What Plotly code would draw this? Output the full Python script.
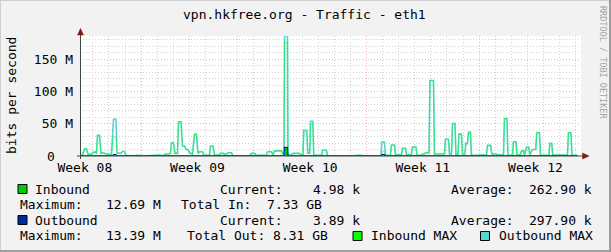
import plotly.graph_objects as go

# ---------------- data (time = days since start of the graph window, values in Mbit/s)
days = [
    0.000, 0.155, 0.280, 0.404, 0.497, 0.715, 0.839, 0.963, 1.025, 1.087,
    1.212, 1.305, 1.460, 1.709, 1.957, 2.081, 2.237, 2.299, 2.516, 2.641,
    2.765, 2.858, 3.324, 3.573, 4.070, 4.629, 4.939, 5.126, 5.312, 5.499,
    5.623, 5.685, 5.809, 5.902, 6.058, 6.120, 6.275, 6.368, 6.493, 6.586,
    6.710, 6.803, 6.990, 7.114, 7.238, 7.331, 7.425, 7.611, 7.704, 8.046,
    8.108, 8.263, 8.357, 8.667, 8.729, 8.916, 9.009, 9.226, 9.413, 9.506,
    10.158, 10.221, 10.407, 10.531, 10.655, 10.842, 10.935, 11.587, 11.650, 11.898,
    11.991, 12.084, 12.519, 12.613, 12.675, 12.706, 12.892, 12.923, 13.141, 13.234,
    13.638, 13.731, 13.855, 13.905, 14.091, 14.153, 14.278, 14.321, 14.464, 14.526,
    15.005, 15.067, 15.315, 15.377, 17.117, 17.179, 17.552, 17.614, 18.701, 18.751,
    18.919, 18.981, 19.292, 19.354, 19.540, 19.602, 19.975, 20.037, 20.224, 20.286,
    20.596, 20.659, 20.876, 20.938, 21.218, 21.280, 21.404, 21.466, 21.684, 21.746,
    21.963, 22.025, 22.647, 22.709, 22.895, 22.958, 23.082, 23.144, 23.299, 23.361,
    23.486, 23.548, 23.703, 23.765, 23.920, 23.970, 24.076, 24.138, 24.262, 24.324,
    24.759, 24.883, 25.256, 25.318, 25.523, 25.586, 25.877, 25.940, 26.313, 26.374,
    26.530, 26.592, 26.872, 26.934, 27.089, 27.151, 27.369, 27.431, 27.555, 27.617,
    27.741, 27.884, 27.946, 28.114, 28.319, 28.381, 28.549, 28.611, 29.139, 29.189,
    29.313, 29.376, 30.289, 30.351, 30.506, 30.568, 30.910,
]
outbound_max = [
    1.0, 2.0, 11, 11, 3, 2.5, 6, 6, 4, 32,
    32, 4, 5, 2.5, 3, 57, 57, 5, 4, 7,
    7, 1, 0.5, 1, 0.3, 1.5, 1.5, 0.5, 3, 3,
    4, 20.5, 20.5, 4, 4, 53, 53, 15.5, 15.5, 10,
    10, 5, 3, 33.5, 33.5, 4, 6.5, 6.5, 1, 1,
    15.5, 15.5, 1.5, 1.5, 4, 4, 2, 5, 5, 0.5,
    0.5, 1.2, 1.2, 0.5, 4, 4, 1, 1, 6.5, 6.5,
    1.5, 8, 8, 3, 3, 186, 186, 2, 2, 4,
    4, 2, 2, 40, 40, 4.5, 4.5, 54, 54, 1,
    1, 9, 9, 0.5, 0.5, 1.2, 1.2, 0.3, 0.3, 21.5,
    21.5, 1, 1.5, 17, 17, 2, 2, 12, 12, 2,
    2, 14, 14, 1, 1, 3, 3, 5, 5, 117,
    117, 3, 3, 26, 26, 3, 3, 50.5, 50.5, 2,
    2, 34, 34, 3, 3, 19.6, 19.6, 36.7, 36.7, 1,
    1, 1.5, 1.5, 16.5, 16.5, 3, 3, 2, 2, 58,
    58, 1, 1, 22, 22, 2, 2, 8, 8, 1,
    14, 14, 2, 10, 10, 36, 36, 1, 1, 19.6,
    19.6, 1.5, 1.5, 36, 36, 1, 1,
]
inbound_max = [
    0.8, 2.0, 11, 11, 3, 2.5, 6, 6, 4, 32,
    32, 4, 5, 2.5, 3, 30, 30, 5, 4, 7,
    7, 1, 0.5, 1, 0.3, 1.5, 1.5, 0.5, 3, 3,
    4, 20.5, 20.5, 4, 4, 53, 53, 15.5, 15, 10,
    10, 5, 3, 33.5, 33.5, 4, 6.5, 6.5, 1, 1,
    15.5, 15.5, 1.5, 1.5, 4, 4, 2, 5, 5, 0.5,
    0.5, 1.2, 1.2, 0.5, 4, 4, 1, 1, 6.5, 6.5,
    1.5, 8, 8, 3, 3, 176, 176, 2, 2, 4,
    4, 2, 2, 37, 37, 4.5, 4.5, 49.5, 49.5, 1,
    1, 9, 9, 0.5, 0.5, 1.2, 1.2, 0.3, 0.3, 7,
    7, 1, 1.5, 17, 17, 2, 2, 12, 12, 2,
    2, 14, 14, 1, 1, 3, 3, 5, 5, 117,
    117, 3, 3, 26, 26, 3, 3, 50.5, 50.5, 2,
    2, 34, 34, 3, 3, 18, 18, 36.7, 36.7, 1,
    1, 1.5, 1.5, 16.5, 16.5, 3, 3, 2, 2, 58,
    58, 1, 1, 22, 22, 2, 2, 8, 8, 1,
    12, 12, 2, 10, 10, 36, 36, 1, 1, 19.6,
    19.6, 1.5, 1.5, 36, 36, 1, 1,
]
avg_days = [0.000, 1.050, 1.087, 1.212, 1.250, 2.050, 2.081, 2.237, 2.270,
            7.400, 7.425, 7.611, 7.640, 12.675, 12.706, 12.892, 12.923,
            14.290, 14.321, 14.464, 14.500, 18.720, 18.751, 18.919, 18.950,
            21.720, 21.746, 21.963, 21.990, 26.350, 26.374, 26.530, 26.560, 30.910]
inbound_avg = [0.2, 0.2, 0.8, 0.8, 0.2, 0.2, 0.6, 0.6, 0.2,
               0.2, 0.5, 0.5, 0.2, 0.2, 12.69, 12.69, 0.3,
               0.3, 0.8, 0.8, 0.2, 0.2, 0.5, 0.5, 0.2,
               0.2, 1.0, 1.0, 0.2, 0.2, 0.6, 0.6, 0.2, 0.2]
outbound_avg = [0.3, 0.3, 0.6, 0.6, 0.3, 0.3, 2.0, 2.0, 0.3,
                0.3, 1.2, 1.2, 0.3, 0.3, 13.39, 13.39, 0.3,
                0.3, 0.8, 0.8, 0.3, 0.3, 2.0, 2.0, 0.3,
                0.3, 0.8, 0.8, 0.3, 0.3, 0.6, 0.6, 0.3, 0.3]

week_labels = ["Week 08", "Week 09", "Week 10", "Week 11", "Week 12"]
week_mid_days = [0.30, 7.30, 14.30, 21.30, 28.30]
week_start_day = 3.80
day_line_start = 0.80
window_days = 31.13
y_top = 186.1

legend_current = ["4.98 k", "3.89 k"]
legend_average = ["262.90 k", "297.90 k"]
legend_maximum = ["12.69 M", "13.39 M"]
legend_total = ["Total In:  7.33 GB", "Total Out: 8.31 GB"]

# ---------------- styling
FONT = "DejaVu Sans Mono"
C_IN = "#00cc00"
C_OUT = "#002a97"
C_IN_MAX = "#00ff00"
C_OUT_MAX = "#55d6d3"
C_GRID = "#d2d2d2"
C_MGRID = "#efb4b4"
C_AXIS = "#3c4a44"
C_ARROW = "#7f1818"

W, H = 611, 252
ML, MR, MT, MB = 80, 30, 36, 96
PW = W - ML - MR
PH = H - MT - MB


def px(x):
    return (x - ML) / PW


def py(y):
    return (H - MB - y) / PH


fig = go.Figure()
fig.add_trace(go.Scatter(x=avg_days, y=inbound_avg, mode="lines", fill="tozeroy",
                         line=dict(color=C_IN, width=0.5), fillcolor=C_IN, hoverinfo="skip"))
fig.add_trace(go.Scatter(x=days, y=outbound_max, mode="lines",
                         line=dict(color=C_OUT_MAX, width=1.6), hoverinfo="skip"))
fig.add_trace(go.Scatter(x=days, y=inbound_max, mode="lines", opacity=0.4,
                         line=dict(color=C_IN_MAX, width=1.1), hoverinfo="skip"))
fig.add_trace(go.Scatter(x=avg_days, y=outbound_avg, mode="lines",
                         line=dict(color=C_OUT, width=1.2), hoverinfo="skip"))
# carrier for the week labels axis
fig.add_trace(go.Scatter(x=week_mid_days, y=[None] * len(week_mid_days), xaxis="x2",
                         mode="markers", hoverinfo="skip", showlegend=False))

dots = "1px,2px"
fig.update_layout(
    width=W, height=H, margin=dict(l=ML, r=MR, t=MT, b=MB, pad=0),
    paper_bgcolor="#f2f2f2", plot_bgcolor="#ffffff", showlegend=False,
    font=dict(family=FONT, size=13, color="#000000"),
    xaxis=dict(range=[0, window_days], tickmode="linear", tick0=week_start_day, dtick=7,
               showgrid=True, gridcolor=C_MGRID, griddash=dots, gridwidth=1,
               showticklabels=False, ticks="", zeroline=False, showline=False,
               minor=dict(tickmode="linear", tick0=day_line_start, dtick=1, showgrid=True,
                          gridcolor=C_GRID, griddash=dots, gridwidth=1)),
    xaxis2=dict(range=[0, window_days], overlaying="x", anchor="y", side="bottom",
                tickmode="array", tickvals=week_mid_days, ticktext=week_labels,
                showgrid=False, zeroline=False, showline=False, ticks="",
                ticklabelstandoff=2, tickfont=dict(family=FONT, size=13)),
    yaxis=dict(range=[0, y_top], tickmode="linear", tick0=0, dtick=50,
               ticksuffix=" M", labelalias={"0 M": " "},
               showgrid=True, gridcolor=C_MGRID, griddash=dots, gridwidth=1,
               zeroline=False, showline=False, ticks="", ticklabelstandoff=6,
               tickfont=dict(family=FONT, size=13),
               minor=dict(tickmode="linear", tick0=0, dtick=10, showgrid=True,
                          gridcolor=C_GRID, griddash=dots, gridwidth=1)),
)

shapes = []
# axes with arrows
shapes.append(dict(type="line", xref="paper", yref="paper", x0=px(80.5), x1=px(80.5),
                   y0=py(159), y1=py(33), line=dict(color=C_AXIS, width=1)))
shapes.append(dict(type="line", xref="paper", yref="paper", x0=px(77), x1=px(584),
                   y0=py(156), y1=py(156), line=dict(color=C_AXIS, width=1)))
shapes.append(dict(type="path", xref="paper", yref="paper",
                   path=f"M {px(80.5)},{py(28.5)} L {px(77.5)},{py(35)} L {px(83.5)},{py(35)} Z",
                   fillcolor=C_ARROW, line=dict(color=C_ARROW, width=0.5)))
shapes.append(dict(type="path", xref="paper", yref="paper",
                   path=f"M {px(589)},{py(156)} L {px(582.5)},{py(153)} L {px(582.5)},{py(159)} Z",
                   fillcolor=C_ARROW, line=dict(color=C_ARROW, width=0.5)))
# image frame shading
shapes.append(dict(type="line", xref="paper", yref="paper", x0=px(0), x1=px(611),
                   y0=py(0.5), y1=py(0.5), line=dict(color="#cfcfcf", width=1)))
shapes.append(dict(type="line", xref="paper", yref="paper", x0=px(0.5), x1=px(0.5),
                   y0=py(0), y1=py(252), line=dict(color="#cfcfcf", width=1)))
shapes.append(dict(type="line", xref="paper", yref="paper", x0=px(610), x1=px(610),
                   y0=py(0), y1=py(252), line=dict(color="#9e9e9e", width=2)))
shapes.append(dict(type="line", xref="paper", yref="paper", x0=px(0), x1=px(611),
                   y0=py(251), y1=py(251), line=dict(color="#9e9e9e", width=2)))


def square(x0, yc, color):
    shapes.append(dict(type="rect", xref="paper", yref="paper",
                       x0=px(x0), x1=px(x0 + 9), y0=py(yc + 4.5), y1=py(yc - 4.5),
                       fillcolor=color, line=dict(color="#000000", width=1)))


rows = [189, 204.5, 220, 236]
square(18, rows[0], C_IN)
square(18, rows[2], C_OUT)
square(353, rows[3], C_IN_MAX)
square(480.5, rows[3], C_OUT_MAX)
fig.update_layout(shapes=shapes)

ann = []


def text(t, x, y, anchor="left", size=13, color="#000000", angle=0):
    ann.append(dict(text=t, xref="paper", yref="paper", x=px(x), y=py(y),
                    xanchor=anchor, yanchor="middle", showarrow=False, borderpad=0,
                    textangle=angle, font=dict(family=FONT, size=size, color=color)))


text("vpn.hkfree.org - Traffic - eth1", 304.6, 14, anchor="center")
text("bits per second", 11, 96, anchor="center", angle=-90)
text("RRDTOOL / TOBI OETIKER", 603, 62, anchor="center", size=8.5, color="#a4a4a4", angle=90)
# zero tick label of the y axis (drawn without the unit suffix, as in rrdtool)
ann.append(dict(text="0", xref="paper", yref="y", x=px(56), y=0, xanchor="right",
                yanchor="middle", showarrow=False, borderpad=0,
                font=dict(family=FONT, size=13, color="#000000")))

for i, name in enumerate(["Inbound", "Outbound"]):
    r1, r2 = rows[2 * i], rows[2 * i + 1]
    text(name, 34, r1)
    text("Current:", 219, r1)
    text(legend_current[i], 360.5, r1, anchor="right")
    text("Average:", 450, r1)
    text(legend_average[i], 592.5, r1, anchor="right")
    text("Maximum:", 18.5, r2)
    text(legend_maximum[i], 161.7, r2, anchor="right")
    text(legend_total[i], 180 if i == 0 else 186, r2)
text("Inbound MAX", 369.5, rows[3])
text("Outbound MAX", 498, rows[3])
fig.update_layout(annotations=ann)

fig.write_html("out.html")
